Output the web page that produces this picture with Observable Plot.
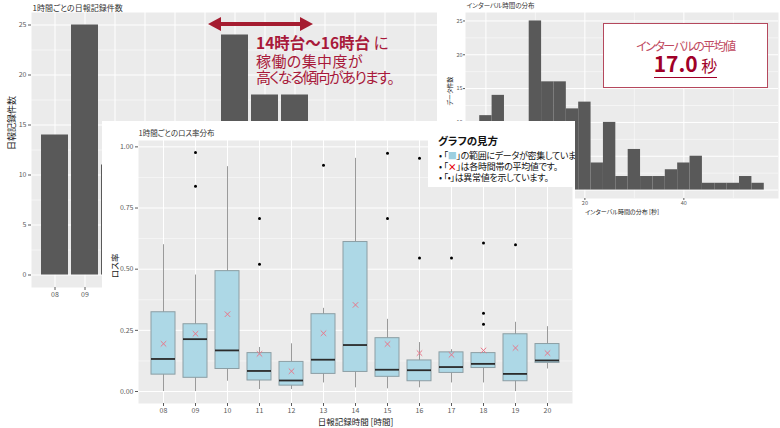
<!DOCTYPE html>
<html><head><meta charset="utf-8">
<script src="https://cdn.jsdelivr.net/npm/d3@7"></script>
<script src="https://cdn.jsdelivr.net/npm/@observablehq/plot@0.6"></script>
<style>
body{margin:0;background:#fff;}
#wrap{position:relative;width:780px;height:428px;overflow:hidden;background:#fff;font-family:"Noto Sans CJK JP",sans-serif;font-feature-settings:"palt";}
.layer{position:absolute;background:#fff;}
.layer svg{display:block;}
#anno{position:absolute;left:0;top:0;z-index:2;color:#A8193A;white-space:nowrap;}
#anno div{position:absolute;left:256px;line-height:1;}
#vbox{position:absolute;left:603px;top:23px;width:163px;height:63px;border:1.5px solid #B5485D;background:#fff;z-index:4;text-align:center;white-space:nowrap;}
#legend{position:absolute;left:428px;top:122px;width:147px;height:65px;background:#fff;overflow:hidden;z-index:6;white-space:nowrap;color:#111;}
#legend div{position:absolute;line-height:1;}
</style></head><body>
<div id="wrap">
  <div class="layer" id="c1" style="left:0;top:0;z-index:1"></div>
  <div id="anno">
    <svg width="330" height="40" style="position:absolute;left:0;top:0">
      <polygon points="208,24 221,17 221,22 300,22 300,17 313,24 300,31 300,26 221,26 221,31" fill="#A51C30"/>
    </svg>
    <div style="top:35px;font-size:15.5px;"><b>14時台～16時台</b> に</div>
    <div style="top:53px;font-size:15px;letter-spacing:0.4px;">稼働の集中度が</div>
    <div style="top:69px;font-size:15px;letter-spacing:-1.8px;">高くなる傾向があります。</div>
  </div>
  <div class="layer" id="c2" style="left:437px;top:0;z-index:3"></div>
  <div id="vbox">
    <div style="position:absolute;left:0;right:0;top:16px;font-size:12px;letter-spacing:-1.5px;line-height:1;color:#C04A60;">インターバルの平均値</div>
    <div style="position:absolute;left:0;right:0;top:29px;line-height:1;color:#A00028;"><span style="border-bottom:1.5px solid #A00028;"><b style="font-size:21px;">17.0</b> <span style="font-size:16px;">秒</span></span></div>
  </div>
  <div class="layer" id="c3" style="left:102px;top:121px;z-index:5"></div>
  <div id="legend">
    <div style="left:10px;top:14px;font-size:10.5px;font-weight:bold;">グラフの見方</div>
    <div style="left:11px;top:29px;font-size:9px;letter-spacing:-0.3px;">•&nbsp;「<span style="color:#9CCFE0">■</span>」の範囲にデータが密集しています。</div>
    <div style="left:11px;top:40px;font-size:9px;letter-spacing:-0.3px;">•&nbsp;「<span style="color:#E8000B;font-weight:bold">×</span>」は各時間帯の平均値です。</div>
    <div style="left:11px;top:51px;font-size:9px;letter-spacing:-0.3px;">•&nbsp;「•」は異常値を示しています。</div>
  </div>
</div>
<script>
// ---- Chart 1: records per hour ----
const hours = ["08","09","10","11","12","13","14","15","16","17","18","19","20"];
const recordCounts = [14, 25, 11, 12, 10, 13, 24, 18, 18, 14, 13, 9, 8];
const countTicks = [0, 5, 10, 15, 20, 25];
const countMinor = [2.5, 7.5, 12.5, 17.5, 22.5];

// ---- Chart 2: interval histogram ----
const binCenters = [0, 2.5, 5, 7.5, 10, 12.5, 15, 17.5, 20, 22.5, 25, 27.5, 30, 32.5, 35, 37.5, 40, 42.5, 45, 47.5, 50, 52.5, 55];
const binCounts  = [11, 14, 10, 10, 25, 16, 16, 12, 13, 4, 10, 2, 6, 2, 2, 3, 4, 5, 1, 1, 1, 2, 1];
const histXTicks = [0, 20, 40];
const histXMinor = [10, 30, 50];
const histYTicks = [0, 5, 10, 15, 20, 25];
const histYMinor = [2.5, 7.5, 12.5, 17.5, 22.5];
const binWidth = 2.5;

// ---- Chart 3: loss-rate boxplots ----
const boxQ1   = [0.069, 0.056, 0.092, 0.045, 0.024, 0.072, 0.080, 0.060, 0.042, 0.076, 0.096, 0.042, 0.117];
const boxMed  = [0.133, 0.214, 0.168, 0.084, 0.045, 0.130, 0.190, 0.089, 0.087, 0.100, 0.113, 0.072, 0.127];
const boxQ3   = [0.324, 0.275, 0.492, 0.157, 0.121, 0.316, 0.611, 0.218, 0.127, 0.160, 0.157, 0.234, 0.194];
const boxLo   = [0.000, 0.000, 0.042, 0.008, 0.008, 0.035, 0.015, 0.011, 0.015, 0.035, 0.035, 0.000, 0.092];
const boxHi   = [0.600, 0.476, 0.919, 0.180, 0.195, 0.340, 0.953, 0.295, 0.200, 0.171, 0.160, 0.283, 0.265];
const boxMean = [0.195, 0.236, 0.316, 0.154, 0.083, 0.238, 0.354, 0.194, 0.157, 0.150, 0.168, 0.178, 0.157];
const outlierHours  = ["09", "09", "11", "11", "13", "15", "15", "16", "16", "17", "18", "18", "18", "19"];
const outlierValues = [0.977, 0.839, 0.707, 0.520, 0.925, 0.974, 0.707, 0.953, 0.546, 0.546, 0.607, 0.320, 0.275, 0.600];
const lossTicks = [0, 0.25, 0.5, 0.75, 1];
const lossMinor = [0.125, 0.375, 0.625, 0.875];

const FONT = "Noto Sans CJK JP, sans-serif";
const PANEL = "#EBEBEB";
const AX = "#5a5a5a";

const recData = hours.map((h, i) => ({h, n: recordCounts[i]}));
const histData = binCenters.map((c, i) => ({c, n: binCounts[i]}));
const boxData = hours.map((h, i) => ({h, q1: boxQ1[i], med: boxMed[i], q3: boxQ3[i], lo: boxLo[i], hi: boxHi[i], mean: boxMean[i]}));
const outData = outlierHours.map((h, i) => ({h, v: outlierValues[i]}));

const c1 = Plot.plot({
  width: 440, height: 300,
  marginLeft: 31, marginRight: 3, marginTop: 12, marginBottom: 13,
  style: {fontFamily: FONT, background: "white", overflow: "visible"},
  x: {type: "band", domain: hours, paddingInner: 0.1, paddingOuter: 0.15},
  y: {domain: [-1.25, 26.25]},
  marks: [
    Plot.frame({fill: PANEL, stroke: "none"}),
    Plot.ruleY(countMinor, {stroke: "white", strokeWidth: 0.5}),
    Plot.ruleY(countTicks, {stroke: "white", strokeWidth: 1}),
    Plot.gridX({stroke: "white", strokeOpacity: 1, strokeWidth: 1}),
    Plot.barY(recData, {x: "h", y1: 0, y2: "n", fill: "#595959"}),
    Plot.axisY({ticks: countTicks, tickSize: 3, tickPadding: 2, fontSize: 7, color: AX, label: null}),
    Plot.axisX({tickSize: 3, tickPadding: 2, fontSize: 7, color: AX, label: null}),
    Plot.text(["日報記録件数"], {text: d => d, frameAnchor: "left", rotate: -90, dx: -19, fontSize: 9, fill: "#222"}),
    Plot.text(["1時間ごとの日報記録件数"], {text: d => d, frameAnchor: "top-left", textAnchor: "start", lineAnchor: "middle", dx: 1, dy: -4, fontSize: 8, fill: "#333"})
  ]
});
document.getElementById("c1").appendChild(c1);

const c2 = Plot.plot({
  width: 343, height: 225,
  marginLeft: 28, marginRight: 2, marginTop: 12, marginBottom: 27,
  style: {fontFamily: FONT, background: "white", overflow: "visible"},
  x: {domain: [-4.125, 59.125]},
  y: {domain: [-1.25, 26.25]},
  marks: [
    Plot.frame({fill: PANEL, stroke: "none"}),
    Plot.ruleY(histYMinor, {stroke: "white", strokeWidth: 0.5}),
    Plot.ruleY(histYTicks, {stroke: "white", strokeWidth: 1}),
    Plot.ruleX(histXMinor, {stroke: "white", strokeWidth: 0.5}),
    Plot.ruleX(histXTicks, {stroke: "white", strokeWidth: 1}),
    Plot.rectY(histData, {x1: d => d.c - binWidth / 2, x2: d => d.c + binWidth / 2, y1: 0, y2: "n", fill: "#595959"}),
    Plot.axisY({ticks: histYTicks, tickSize: 2, tickPadding: 1, fontSize: 5.5, color: AX, label: null}),
    Plot.axisX({ticks: histXTicks, tickSize: 2, tickPadding: 1, fontSize: 5.5, color: AX, label: null}),
    Plot.text(["データ件数"], {text: d => d, frameAnchor: "left", rotate: -90, dx: -15, fontSize: 6, fill: "#222"}),
    Plot.text(["インターバル時間の分布 [秒]"], {text: d => d, frameAnchor: "bottom", lineAnchor: "middle", dy: 14, fontSize: 6, fill: "#222"}),
    Plot.text(["インターバル時間の分布"], {text: d => d, frameAnchor: "top-left", textAnchor: "start", lineAnchor: "middle", dx: 1, dy: -7, fontSize: 6.5, fill: "#333"})
  ]
});
document.getElementById("c2").appendChild(c2);

const c3 = Plot.plot({
  width: 473, height: 307,
  marginLeft: 36, marginRight: 3, marginTop: 19, marginBottom: 25,
  style: {fontFamily: FONT, background: "white", overflow: "visible"},
  x: {type: "band", domain: hours, paddingInner: 0.25, paddingOuter: 0.225},
  y: {domain: [-0.049, 1.026]},
  marks: [
    Plot.frame({fill: PANEL, stroke: "none"}),
    Plot.ruleY(lossMinor, {stroke: "white", strokeWidth: 0.5}),
    Plot.ruleY(lossTicks, {stroke: "white", strokeWidth: 1}),
    Plot.gridX({stroke: "white", strokeOpacity: 1, strokeWidth: 1}),
    Plot.ruleX(boxData, {x: "h", y1: "lo", y2: "hi", stroke: "#9a9a9a", strokeWidth: 1}),
    Plot.barY(boxData, {x: "h", y1: "q1", y2: "q3", fill: "#ADD8E6", stroke: "#8C9EA4", strokeWidth: 1}),
    Plot.tickY(boxData, {x: "h", y: "med", stroke: "#2b2b2b", strokeWidth: 1.8}),
    Plot.dot(boxData, {x: "h", y: "mean", symbol: "times", r: 2.6, stroke: "#E8778A", strokeWidth: 1}),
    Plot.dot(outData, {x: "h", y: "v", r: 1.5, fill: "#000", stroke: "none"}),
    Plot.axisY({ticks: lossTicks, tickFormat: d3.format(".2f"), tickSize: 3, tickPadding: 2, fontSize: 7, color: AX, label: null}),
    Plot.axisX({tickSize: 3, tickPadding: 2, fontSize: 7, color: AX, label: null}),
    Plot.text(["ロス率"], {text: d => d, frameAnchor: "left", rotate: -90, dx: -23, dy: 6, fontSize: 8.5, fill: "#222"}),
    Plot.text(["日報記録時間 [時間]"], {text: d => d, frameAnchor: "bottom", lineAnchor: "middle", dy: 19, fontSize: 8.5, fill: "#222"}),
    Plot.text(["1時間ごとのロス率分布"], {text: d => d, frameAnchor: "top-left", textAnchor: "start", lineAnchor: "middle", dx: 0, dy: -7, fontSize: 7.5, fill: "#333"})
  ]
});
document.getElementById("c3").appendChild(c3);
</script>
</body></html>
